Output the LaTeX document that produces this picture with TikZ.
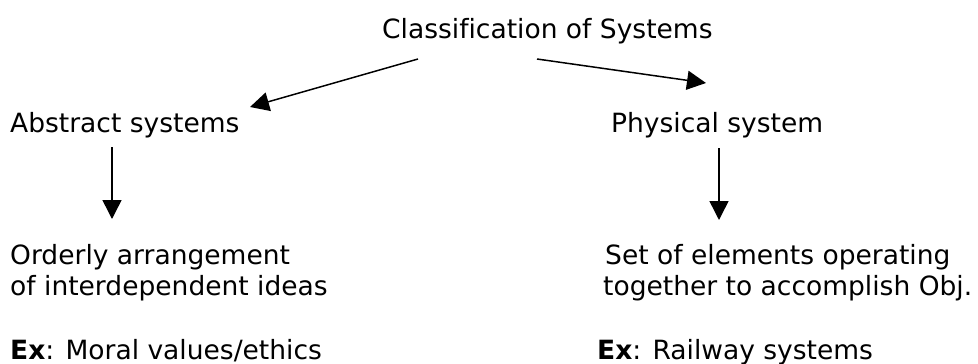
\documentclass[tikz,border=0pt]{standalone}
\usepackage{fontspec}
\setmainfont[Ligatures=NoCommon]{DejaVu Sans}
\usetikzlibrary{arrows.meta}
\begin{document}
\begin{tikzpicture}[x=1pt,y=-1pt,
  label text/.style={anchor=base west,inner sep=0pt,font=\fontsize{26.5}{31}\selectfont},
  link/.style={line width=1.5pt,-{Triangle[length=19pt,width=19pt]}}]
\useasboundingbox (0,0) rectangle (978,364);
% titles
\node[label text] (root) at (382,38) {Classification of Systems};
\node[label text] (abs) at (10,132) {Abstract systems};
\node[label text] (phy) at (611,132) {Physical system};
% descriptions
\node[label text] (absd1) at (10,264) {Orderly arrangement};
\node[label text] (absd2) at (10,295) {of interdependent ideas};
\node[label text] (phyd1) at (605,264) {Set of elements operating};
\node[label text] (phyd2) at (603,295) {together to accomplish Obj.};
% examples
\node[label text] (absx) at (10,359) {\textbf{Ex}: Moral values/ethics};
\node[label text] (phyx) at (597,359) {\textbf{Ex}: Railway systems};
% arrow end points
\coordinate (r1) at (418,59);
\coordinate (a1) at (250,107);
\coordinate (r2) at (537,59);
\coordinate (p1) at (706,83);
\coordinate (a2) at (112,147);
\coordinate (a3) at (112,219);
\coordinate (p2) at (719,148);
\coordinate (p3) at (719,220);
\draw[link] (r1) -- (a1);
\draw[link] (r2) -- (p1);
\draw[link] (a2) -- (a3);
\draw[link] (p2) -- (p3);
\end{tikzpicture}
\end{document}
